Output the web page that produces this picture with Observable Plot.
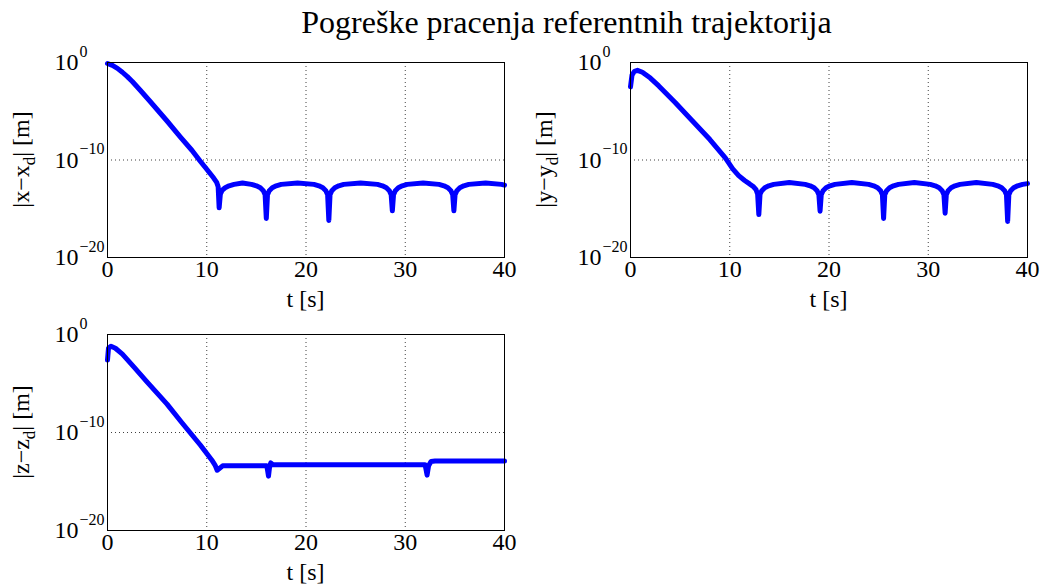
<!DOCTYPE html>
<html><head><meta charset="utf-8">
<script src="https://cdn.jsdelivr.net/npm/d3@7"></script>
<script src="https://cdn.jsdelivr.net/npm/@observablehq/plot@0.6"></script>
<style>
body{margin:0;background:#fff;}
#fig{position:relative;width:1043px;height:588px;background:#fff;overflow:hidden;font-family:"Liberation Serif",serif;}
#title{position:absolute;left:0;width:1043px;top:6px;line-height:32px;text-align:center;font-size:32px;color:#000;padding-left:90px;box-sizing:border-box;}
</style></head>
<body><div id="fig"><div id="title">Pogreške pracenja referentnih trajektorija</div></div>
<script>
// tick values / labels
const xTicks = [0, 10, 20, 30, 40];
const yTicks = [1e0, 1e-10, 1e-20];
const yTickExponents = ["0", "−10", "−20"];

// |x - x_d| : time [s] and log10 of error
const tX = [0, 0.5, 1.0, 1.5, 2.0, 2.5, 3.3, 4.3, 6.0, 7.35, 8.5, 9.37, 10.0, 10.7, 11.0,
  11.15, 11.25, 11.37, 11.55, 11.85, 12.25, 12.75, 13.6,
  14.5, 15.0, 15.4, 15.7, 15.88, 16.0, 16.12, 16.3, 16.6, 17.0, 17.5, 19.15,
  20.8, 21.3, 21.7, 22.0, 22.18, 22.3, 22.42, 22.6, 22.9, 23.3, 23.8, 25.5,
  27.2, 27.7, 28.1, 28.4, 28.58, 28.7, 28.82, 29.0, 29.3, 29.7, 30.2, 31.8,
  33.4, 33.9, 34.3, 34.6, 34.78, 34.9, 35.02, 35.2, 35.5, 35.9, 36.4, 38.1,
  39.7, 40.0];
const eX = [-0.1, -0.3, -0.6, -1.0, -1.45, -1.95, -2.85, -4.0, -6.0, -7.65, -9.0, -10.15, -10.95, -11.85, -12.3,
  -12.75, -14.9, -13.5, -13.1, -12.85, -12.65, -12.5, -12.35,
  -12.5, -12.65, -12.85, -13.15, -13.55, -16.0, -13.55, -13.15, -12.85, -12.65, -12.5, -12.35,
  -12.5, -12.65, -12.85, -13.15, -13.55, -16.2, -13.55, -13.15, -12.85, -12.65, -12.5, -12.35,
  -12.5, -12.65, -12.85, -13.15, -13.55, -15.2, -13.55, -13.15, -12.85, -12.65, -12.5, -12.35,
  -12.5, -12.65, -12.85, -13.15, -13.55, -15.2, -13.55, -13.15, -12.85, -12.65, -12.5, -12.35,
  -12.5, -12.58];

// |y - y_d|
const tY = [0, 0.15, 0.4, 0.7, 1.2, 2.0, 2.85, 4.5, 6.2, 8.0, 9.57, 10.3, 10.9, 11.5, 12.0, 12.4, 12.65, 12.81, 12.93, 13.05, 13.23, 13.53, 13.93, 14.43, 16.0,
  17.6, 18.1, 18.5, 18.8, 18.98, 19.1, 19.22, 19.4, 19.7, 20.1, 20.6, 22.3,
  24.0, 24.5, 24.9, 25.2, 25.38, 25.5, 25.62, 25.8, 26.1, 26.5, 27.0, 28.6,
  30.2, 30.7, 31.1, 31.4, 31.58, 31.7, 31.82, 32.0, 32.3, 32.7, 33.2, 34.85,
  36.5, 37.0, 37.4, 37.7, 37.88, 38.0, 38.12, 38.3, 38.6, 39.0, 39.5,
  40.0];
const eY = [-2.5, -1.3, -0.9, -0.8, -1.0, -1.6, -2.4, -4.1, -5.95, -7.9, -9.8, -10.9, -11.6, -12.1, -12.45, -12.75, -13.05, -13.5, -15.6, -13.5, -13.15, -12.85, -12.65, -12.5, -12.3,
  -12.5, -12.65, -12.85, -13.15, -13.55, -15.25, -13.55, -13.15, -12.85, -12.65, -12.5, -12.3,
  -12.5, -12.65, -12.85, -13.15, -13.55, -16.0, -13.55, -13.15, -12.85, -12.65, -12.5, -12.3,
  -12.5, -12.65, -12.85, -13.15, -13.55, -15.45, -13.55, -13.15, -12.85, -12.65, -12.5, -12.3,
  -12.5, -12.65, -12.85, -13.15, -13.55, -16.3, -13.55, -13.15, -12.85, -12.65, -12.5,
  -12.42];

// |z - z_d|
const tZ = [0, 0.1, 0.35, 0.8, 1.5, 2.65, 4.0, 6.0, 7.5, 9.37, 10.5, 10.85, 11.05, 11.3, 11.6, 12.0, 14.0,
  16.05, 16.15, 16.22, 16.32, 16.45, 16.7, 20.0, 26.0, 32.0, 32.1, 32.2, 32.35, 32.6, 33.0, 36.0, 40.0];
const eZ = [-2.6, -1.4, -1.2, -1.4, -2.0, -3.3, -4.85, -7.1, -9.0, -11.3, -12.8, -13.35, -13.85, -13.65, -13.4, -13.4, -13.4,
  -13.4, -14.0, -14.45, -13.6, -13.1, -13.3, -13.3, -13.3, -13.3, -13.8, -14.35, -13.4, -12.95, -12.9, -12.9, -12.9];

const FONT = "serif";

function panel({t, e, left, top, width, height, marginLeft, marginRight, marginTop, marginBottom, v, sub}) {
  const data = t.map((ti, i) => ({t: ti, v: Math.pow(10, e[i])}));
  const svg = Plot.plot({
    width, height, marginLeft, marginRight, marginTop, marginBottom,
    style: {fontFamily: FONT, fontSize: "22px"},
    x: {domain: [0, 40], axis: null},
    y: {type: "log", domain: [1e-20, 1], axis: null},
    marks: [
      Plot.gridX(xTicks, {stroke: "#000", strokeOpacity: 0.75, strokeDasharray: "1,3"}),
      Plot.gridY(yTicks, {stroke: "#000", strokeOpacity: 0.75, strokeDasharray: "1,3"}),
      Plot.text(xTicks, {x: d => d, text: d => String(d), frameAnchor: "bottom", dy: 19, fontSize: 24}),
      Plot.text(yTicks, {y: d => d, text: () => "10", frameAnchor: "left", dx: -29, textAnchor: "end", fontSize: 24}),
      Plot.text(yTicks, {y: d => d, text: (d, i) => yTickExponents[i], frameAnchor: "left", dx: -28, dy: -11, textAnchor: "start", fontSize: 16}),
      Plot.line(data, {x: "t", y: "v", stroke: "#0000ff", strokeWidth: 5, strokeLinejoin: "round", strokeLinecap: "round"}),
      Plot.frame({stroke: "#000", strokeWidth: 1})
    ]
  });
  const fw = width - marginLeft - marginRight;
  const fh = height - marginTop - marginBottom;
  const s = d3.select(svg);
  s.append("text").attr("x", marginLeft + fw / 2).attr("y", marginTop + fh + 50)
    .attr("text-anchor", "middle").attr("font-size", 24).attr("font-family", FONT).text("t [s]");
  const yl = s.append("text")
    .attr("transform", `translate(${marginLeft - 78},${marginTop + fh / 2}) rotate(-90)`)
    .attr("text-anchor", "middle").attr("font-size", 24).attr("font-family", FONT);
  yl.append("tspan").text(`|${v}−${v}`);
  yl.append("tspan").attr("font-size", 17).attr("dy", 6).text(sub);
  yl.append("tspan").attr("dy", -6).text("| [m]");
  svg.style.position = "absolute";
  svg.style.left = left + "px";
  svg.style.top = top + "px";
  document.getElementById("fig").appendChild(svg);
}

panel({t: tX, e: eX, left: 0, top: 40, width: 520, height: 275, marginLeft: 107, marginRight: 16, marginTop: 22, marginBottom: 58, v: "x", sub: "d"});
panel({t: tY, e: eY, left: 520, top: 40, width: 523, height: 275, marginLeft: 110, marginRight: 16, marginTop: 22, marginBottom: 58, v: "y", sub: "d"});
panel({t: tZ, e: eZ, left: 0, top: 312, width: 520, height: 276, marginLeft: 107, marginRight: 16, marginTop: 22, marginBottom: 58, v: "z", sub: "d"});
</script>
</body></html>
